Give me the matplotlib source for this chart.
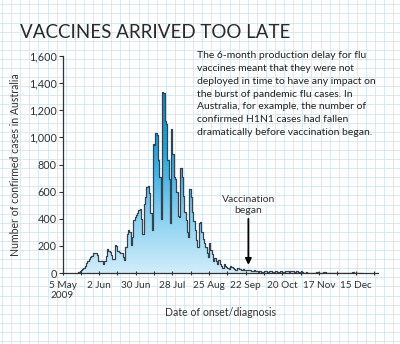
import matplotlib
matplotlib.use("Agg")
import matplotlib.pyplot as plt
import numpy as np
from matplotlib.colors import LinearSegmentedColormap

plt.rcParams["font.family"] = ["Lato", "DejaVu Sans"]

# daily confirmed cases, first value is day 12 after 5 May 2009
start_day = 12
cases = [
    5, 15, 20, 27, 35, 50, 75, 90, 100, 115, 125, 145, 148, 145, 135, 90,
    85, 88, 85, 65, 90, 125, 180, 165, 155, 135, 105, 100, 205, 200, 160,
    155, 150, 150, 120, 96, 190, 290, 320, 300, 210, 265, 390, 415, 425,
    440, 465, 470, 400, 290, 510, 560, 635, 645, 590, 440, 315, 950, 945,
    1030, 1020, 830, 710, 400, 1335, 1330, 1120, 1100, 830, 690, 370, 1060,
    880, 710, 690, 600, 420, 415, 775, 710, 565, 450, 390, 300, 265, 620,
    560, 450, 380, 320, 240, 195, 370, 375, 300, 250, 220, 195, 150, 120,
    220, 170, 140, 90, 110, 85, 70, 95, 70, 55, 40, 65, 55, 45, 40, 30, 50,
    45, 35, 30, 25, 40, 35, 28, 25, 20, 30, 25, 22, 20, 25, 22, 18, 15, 20,
    18, 12, 10, 15, 12, 10, 8, 14, 12, 10, 8, 12, 15, 10, 8, 12, 14, 10, 8,
    14, 12, 10, 8, 12, 14, 12, 10, 15, 14, 12, 10, 14, 12, 10, 8, 12, 10,
    0, 0, 10, 0, 0, 0, 0, 0, 0, 0, 10, 0, 0, 0, 0, 8, 10, 0, 0, 0, 0, 0,
    0, 0, 0, 0, 0, 0, 0, 0, 0, 0, 0, 0, 0, 0, 0, 8, 10, 0, 0, 0, 0, 0, 0,
]
tick_days = [0, 28, 56, 84, 112, 140, 168, 196, 224]
tick_labels = ["5 May\n2009", "2 Jun", "30 Jun", "28 Jul", "25 Aug",
               "22 Sep", "20 Oct", "17 Nov", "15 Dec"]
y_ticks = [0, 200, 400, 600, 800, 1000, 1200, 1400, 1600]
vacc_day = 142

W, H = 400, 344
fig = plt.figure(figsize=(W / 100, H / 100), dpi=100)

# graph-paper background
bg = fig.add_axes([0, 0, 1, 1], zorder=-5)
bg.set_xlim(0, W)
bg.set_ylim(0, H)
bg.axis("off")
for gx in np.arange(2, W, 9.1):
    bg.axvline(gx, color="#d3e7f1", lw=0.6)
for gy in np.arange(3, H, 9.1):
    bg.axhline(gy, color="#d3e7f1", lw=0.6)

ax = fig.add_axes([62.5 / W, 1 - 273 / H, (378 - 62.5) / W, (273 - 56) / H])
ax.patch.set_alpha(0)

days = np.arange(start_day, start_day + len(cases) + 1)
vals = np.append(cases, cases[-1])

fill = ax.fill_between(days, vals, step="post", color="none", lw=0)
cmap = LinearSegmentedColormap.from_list("blu", ["#d2edfa", "#7fcdef", "#1aa3dc", "#0a86c0"])
grad = np.linspace(0, 1, 256).reshape(-1, 1)
im = ax.imshow(grad, extent=[0, 241, 0, 1400], origin="lower", aspect="auto",
               cmap=cmap, zorder=1)
path = fill.get_paths()[0]
im.set_clip_path(path, transform=ax.transData)
ax.step(days, vals, where="post", color="#34434f", lw=0.9, zorder=2)

ax.set_xlim(0, 241)
ax.set_ylim(0, 1600)

for s in ["top", "right"]:
    ax.spines[s].set_visible(False)
for s in ["left", "bottom"]:
    ax.spines[s].set_color("#333333")
    ax.spines[s].set_linewidth(0.9)

ax.set_yticks(y_ticks)
ax.set_yticklabels([f"{v:,}" for v in y_ticks])
ax.set_xticks(tick_days)
ax.set_xticklabels(tick_labels)
ax.set_xticks(np.arange(14, 241, 28), minor=True)
ax.tick_params(axis="y", colors="#333333", labelsize=7.8, length=3, width=0.8, pad=1)
ax.tick_params(axis="x", which="both", direction="inout", length=3, width=0.8,
               colors="#333333", labelsize=7.2, pad=4)

ax.set_ylabel("Number of confirmed cases in Australia", fontsize=7.6,
              color="#333333", labelpad=6)
ax.set_xlabel("Date of onset/diagnosis", fontsize=7.6, color="#333333", labelpad=5)

ax.annotate("Vaccination\nbegan", xy=(vacc_day, 60), xytext=(vacc_day, 430),
            ha="center", va="bottom", fontsize=7.5, color="#333333",
            linespacing=1.2,
            arrowprops=dict(arrowstyle="-|>", color="black", lw=1.3,
                            mutation_scale=9, shrinkA=1, shrinkB=0))

fig.text(20 / W, 1 - 33 / H, "VACCINES ARRIVED TOO LATE", fontsize=13.5,
         fontweight="normal", color="#2a2a2a", va="center", ha="left")

blurb = ("The 6-month production delay for flu\n"
         "vaccines meant that they were not\n"
         "deployed in time to have any impact on\n"
         "the burst of pandemic flu cases. In\n"
         "Australia, for example, the number of\n"
         "confirmed H1N1 cases had fallen\n"
         "dramatically before vaccination began.")
fig.text(197 / W, 1 - 51 / H, blurb, fontsize=7.5, color="#222222",
         va="top", ha="left", linespacing=1.55)

fig.savefig("out.png", dpi=100)
